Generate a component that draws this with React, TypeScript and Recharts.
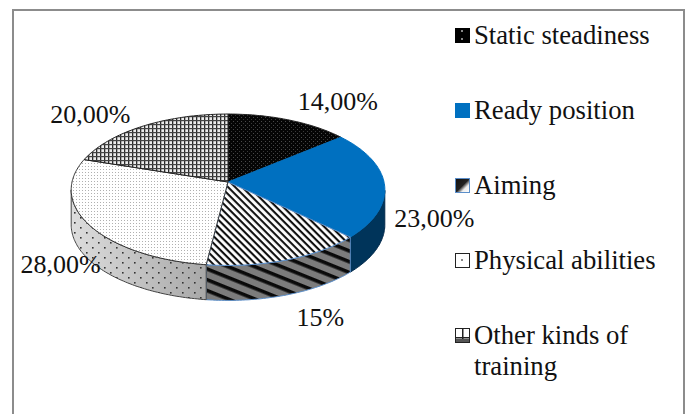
import { Legend, Pie, PieChart } from "recharts"

const categories = [
  "Static steadiness",
  "Ready position",
  "Aiming",
  "Physical abilities",
  "Other kinds of training",
]
const shares = [14, 23, 15, 28, 20]
const shareLabels = ["14,00%", "23,00%", "15%", "28,00%", "20,00%"]

const topFills = ["url(#dotsDark)", "#0070c0", "url(#hatchLight)", "url(#dotsLight)", "url(#gridDark)"]
const wallFills = ["#000000", "#00345a", "url(#hatchWall)", "url(#wallShade)", "#444444"]
const wallEdges = ["#000000", "#00284a", "#5b8ec9", "#444444", "#444444"]
const sliceEdges = ["#222222", "#0070c0", "#5b8ec9", "#333333", "#222222"]
const swatchFills = ["url(#swatchBlack)", "#0070c0", "url(#swatchHatch)", "url(#swatchDots)", "url(#swatchGrid)"]
const swatchEdges = ["#000000", "#0070c0", "#5b8ec9", "#222222", "#222222"]
// distance from each slice's rim midpoint to the centre of its label
const labelShift = [
  [49, -18],
  [50, 34],
  [34, 58],
  [-28, 40],
  [-53, -12],
]

const WIDTH = 685
const HEIGHT = 414
const FONT = '"Liberation Serif", "Times New Roman", serif'

// the pie is tilted in perspective, so the rim is a projected circle
const APEX_X = 228
const APEX_Y = 182
const SPREAD_X = 156
const SPREAD_Y = 74.9
const PERSPECTIVE = 0.102
const DEPTH = 35

function project(angle: number) {
  const rad = (angle * Math.PI) / 180
  const u = Math.cos(rad)
  const v = Math.sin(rad)
  const d = 1 + PERSPECTIVE * v
  return [APEX_X + (SPREAD_X * u) / d, APEX_Y - (SPREAD_Y * v) / d]
}

function arcAngles(from: number, to: number) {
  const steps = Math.max(2, Math.ceil(Math.abs(from - to)))
  const angles: number[] = []
  for (let i = 0; i <= steps; i++) {
    angles.push(from + ((to - from) * i) / steps)
  }
  return angles
}

function toPath(points: number[][]) {
  return points.map((p, i) => `${i === 0 ? "M" : "L"}${p[0].toFixed(1)} ${p[1].toFixed(1)}`).join(" ")
}

function TopSlice(props: any) {
  const { startAngle, endAngle, index } = props
  const rim = arcAngles(startAngle, endAngle).map(project)
  const d = `M${APEX_X} ${APEX_Y} ${toPath(rim).replace("M", "L")} Z`
  return <path d={d} fill={topFills[index]} stroke={sliceEdges[index]} strokeWidth={1} />
}

function WallSlice(props: any) {
  const { startAngle, endAngle, index } = props
  const upper = arcAngles(startAngle, endAngle)
    .filter((a) => Math.sin((a * Math.PI) / 180) <= -PERSPECTIVE)
    .map(project)
  if (upper.length < 2) return null
  const lower = upper.map((p) => [p[0], p[1] + DEPTH]).reverse()
  const d = `${toPath(upper)} ${toPath(lower).replace("M", "L")} Z`
  return (
    <g>
      <path d={d} fill={wallFills[index]} stroke={wallEdges[index]} strokeWidth={1} />
      {index === 3 && <path d={d} fill="url(#dotsWall)" stroke="none" />}
    </g>
  )
}

function SliceLabel(props: any) {
  const { midAngle, index } = props
  const [x, y] = project(midAngle)
  return (
    <text
      x={x + labelShift[index][0]}
      y={y + labelShift[index][1]}
      textAnchor="middle"
      dominantBaseline="central"
      fontFamily={FONT}
      fontSize={26}
      fill="#111111"
    >
      {shareLabels[index]}
    </text>
  )
}

function KeyList({ payload }: any) {
  const items = (payload ?? []).filter((entry: any) => entry.type !== "none")
  return (
    <div style={{ fontFamily: FONT, fontSize: 26.7, lineHeight: "31px", color: "#111111" }}>
      {items.map((entry: any, i: number) => (
        <div key={entry.value} style={{ display: "flex", marginBottom: 44 }}>
          <svg width={15} height={15} style={{ marginTop: 8, marginRight: 4, flexShrink: 0 }}>
            <rect x={0.5} y={0.5} width={14} height={14} fill={swatchFills[i]} stroke={swatchEdges[i]} />
          </svg>
          <span style={{ width: 190 }}>{entry.value}</span>
        </div>
      ))}
    </div>
  )
}

function Patterns() {
  return (
    <defs>
      <pattern id="dotsDark" width={4} height={4} patternUnits="userSpaceOnUse">
        <rect width={4} height={4} fill="#050505" />
        <rect x={1} y={1} width={1} height={1} fill="#4a4a4a" />
        <rect x={3} y={3} width={1} height={1} fill="#3a3a3a" />
      </pattern>
      <pattern id="dotsLight" width={3} height={3} patternUnits="userSpaceOnUse">
        <rect width={3} height={3} fill="#ffffff" />
        <rect x={1} y={1} width={1} height={1} fill="#b0b0b0" />
      </pattern>
      <pattern id="gridDark" width={4} height={4} patternUnits="userSpaceOnUse">
        <rect width={4} height={4} fill="#ececec" />
        <rect x={0} width={1.3} height={4} fill="#2a2a2a" />
        <rect y={0} width={4} height={1.2} fill="#444444" />
      </pattern>
      <pattern id="hatchLight" width={5} height={5} patternUnits="userSpaceOnUse" patternTransform="rotate(45)">
        <rect width={5} height={5} fill="#ffffff" />
        <rect width={5} height={2.1} fill="#111111" />
      </pattern>
      <pattern id="hatchWall" width={14} height={10} patternUnits="userSpaceOnUse" patternTransform="rotate(22)">
        <rect width={14} height={10} fill="#7c7c7c" />
        <rect width={14} height={3.6} fill="#0a0a0a" />
      </pattern>
      <linearGradient id="wallShade" x1="0" y1="0" x2="1" y2="0">
        <stop offset="0%" stopColor="#dddddd" />
        <stop offset="100%" stopColor="#a8a8a8" />
      </linearGradient>
      <pattern id="dotsWall" width={12} height={10} patternUnits="userSpaceOnUse">
        <rect x={2} y={2} width={1.6} height={1.6} fill="#333333" />
        <rect x={8} y={7} width={1.6} height={1.6} fill="#333333" />
      </pattern>
      <pattern id="swatchBlack" width={14} height={14} patternUnits="userSpaceOnUse">
        <rect width={14} height={14} fill="#000000" />
        <rect x={6} y={2} width={2} height={2} fill="#888888" />
        <rect x={6} y={10} width={2} height={2} fill="#888888" />
      </pattern>
      <linearGradient id="swatchHatch" x1="0" y1="0" x2="1" y2="1">
        <stop offset="0%" stopColor="#111111" />
        <stop offset="50%" stopColor="#222222" />
        <stop offset="70%" stopColor="#eeeeee" />
        <stop offset="100%" stopColor="#ffffff" />
      </linearGradient>
      <pattern id="swatchDots" width={14} height={14} patternUnits="userSpaceOnUse">
        <rect width={14} height={14} fill="#ffffff" />
        <rect x={6} y={6} width={2} height={2} fill="#888888" />
      </pattern>
      <pattern id="swatchGrid" width={14} height={14} patternUnits="userSpaceOnUse">
        <rect width={14} height={14} fill="#ffffff" />
        <rect x={7} width={1.5} height={14} fill="#222222" />
        <rect y={9} width={14} height={1.5} fill="#222222" />
        <rect y={11} width={14} height={3} fill="#555555" />
      </pattern>
    </defs>
  )
}

export default function App() {
  const data = categories.map((name, i) => ({ name, value: shares[i] }))

  return (
    <div style={{ position: "absolute", left: 0, top: 0, width: WIDTH, height: HEIGHT, background: "#ffffff", overflow: "hidden" }}>
      <div
        style={{
          position: "absolute",
          left: 12,
          top: 9,
          width: 669,
          height: 420,
          border: "2.5px solid #8c8c8c",
        }}
      />
      <PieChart width={WIDTH} height={HEIGHT} margin={{ top: 0, right: 0, bottom: 0, left: 0 }}>
        <Patterns />
        <Pie
          data={data}
          dataKey="value"
          nameKey="name"
          cx={APEX_X}
          cy={APEX_Y}
          outerRadius={SPREAD_X}
          startAngle={90}
          endAngle={-270}
          shape={WallSlice}
          legendType="none"
          stroke="none"
          isAnimationActive={false}
        />
        <Pie
          data={data}
          dataKey="value"
          nameKey="name"
          cx={APEX_X}
          cy={APEX_Y}
          outerRadius={SPREAD_X}
          startAngle={90}
          endAngle={-270}
          shape={TopSlice}
          label={SliceLabel}
          labelLine={false}
          isAnimationActive={false}
        />
        <Legend
          layout="vertical"
          align="left"
          verticalAlign="top"
          itemSorter={null}
          content={<KeyList />}
          wrapperStyle={{ left: 455, top: 20, width: 215 }}
        />
      </PieChart>
    </div>
  )
}
